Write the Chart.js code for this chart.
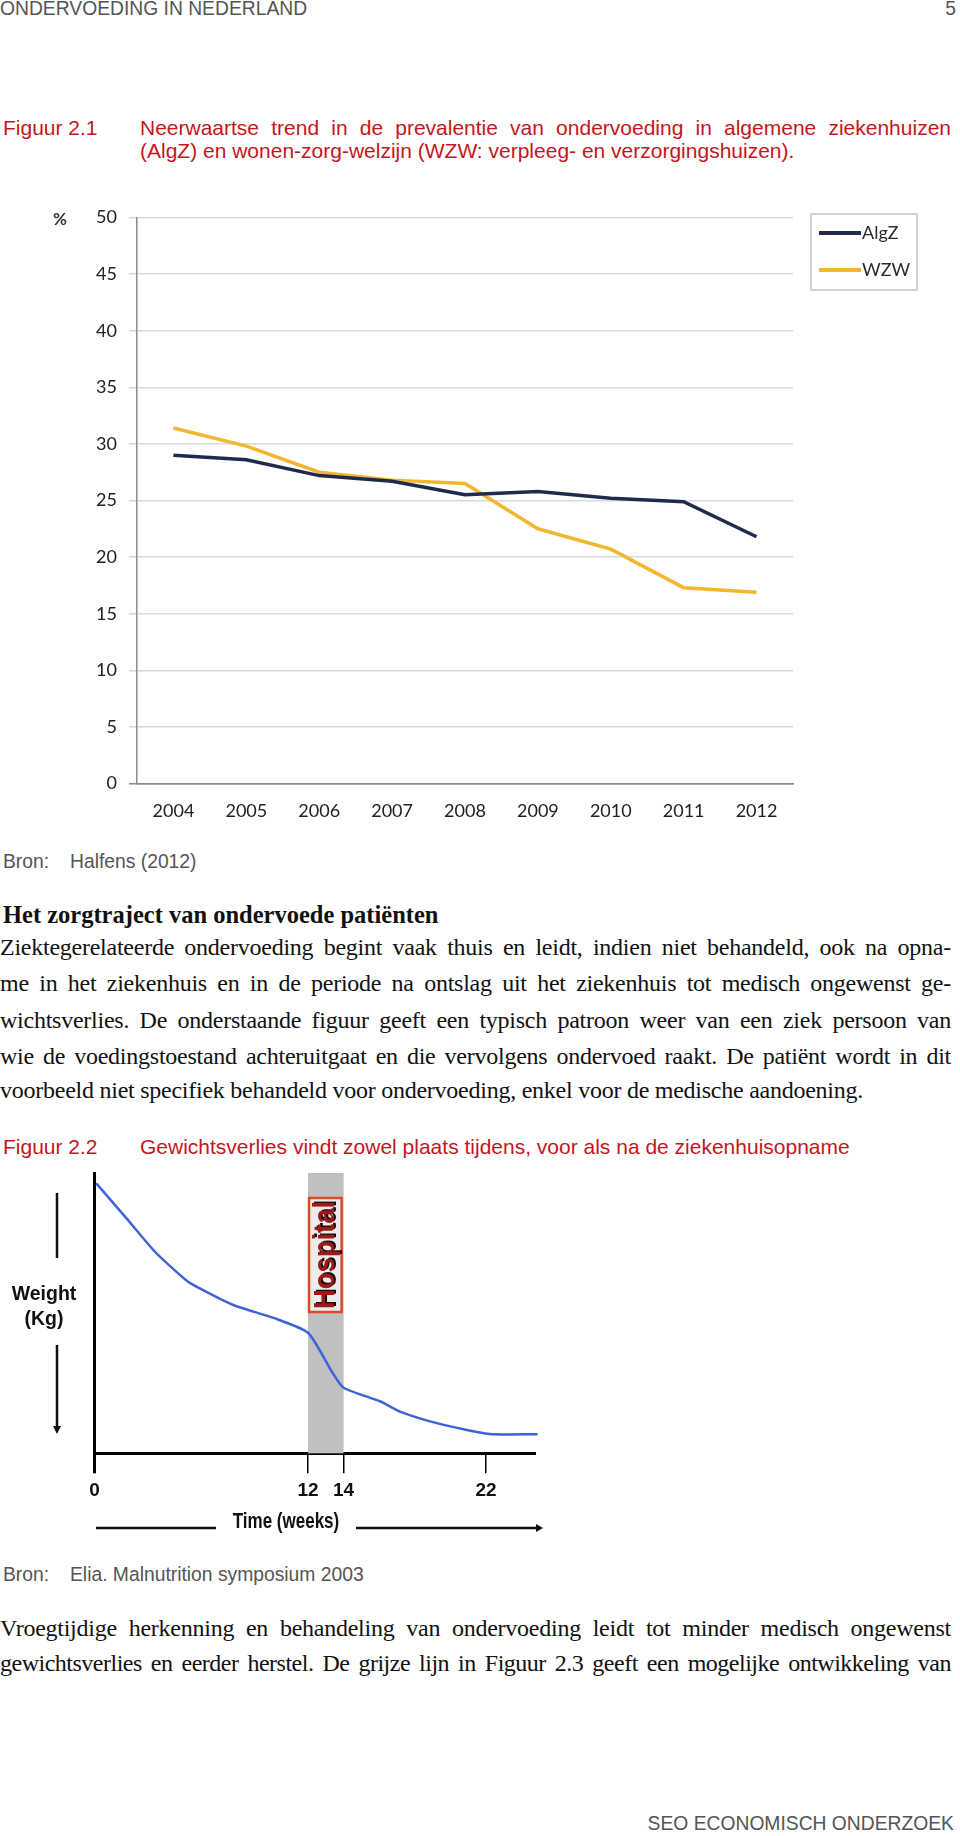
<!DOCTYPE html>
<html>
<head>
<meta charset="utf-8">
<script src="https://cdn.jsdelivr.net/npm/chart.js@4.4.1/dist/chart.umd.min.js"></script>
<style>
body{margin:0;background:#fff;}
#page{position:relative;width:960px;height:1836px;overflow:hidden;}
.t{position:absolute;white-space:nowrap;line-height:24px;height:24px;}
.sans{font-family:"Liberation Sans",Arial,sans-serif;}
.serif{font-family:"Liberation Serif","Times New Roman",serif;font-size:24px;color:#111;letter-spacing:-0.25px;}
.j{left:0;width:951px;text-align:justify;text-align-last:justify;white-space:normal;}
.gray{color:#555;}
.red{color:#c4161c;}
.cap{font-size:21px;}
.src{font-size:19.3px;}
canvas{position:absolute;}
</style>
</head>
<body>
<div id="page">
  <div class="t sans gray" style="left:0;top:-3px;font-size:19.3px;">ONDERVOEDING IN NEDERLAND</div>
  <div class="t sans gray" style="right:4px;top:-3px;font-size:19.3px;">5</div>

  <div class="t sans red cap" style="left:3px;top:116px;">Figuur 2.1</div>
  <div class="t sans red cap j" style="left:140px;width:811px;top:116px;">Neerwaartse trend in de prevalentie van ondervoeding in algemene ziekenhuizen</div>
  <div class="t sans red cap" style="left:140px;top:139px;">(AlgZ) en wonen-zorg-welzijn (WZW: verpleeg- en verzorgingshuizen).</div>

  <canvas id="prevChart" width="900" height="640" style="left:40px;top:190px;"></canvas>

  <div class="t sans gray src" style="left:3px;top:850px;">Bron:</div>
  <div class="t sans gray src" style="left:70px;top:850px;">Halfens (2012)</div>

  <div class="t serif" style="left:3px;top:903px;font-weight:bold;font-size:24.5px;letter-spacing:0;">Het zorgtraject van ondervoede patiënten</div>
  <div class="t serif j" style="top:935px;">Ziektegerelateerde ondervoeding begint vaak thuis en leidt, indien niet behandeld, ook na opna-</div>
  <div class="t serif j" style="top:971px;">me in het ziekenhuis en in de periode na ontslag uit het ziekenhuis tot medisch ongewenst ge-</div>
  <div class="t serif j" style="top:1008px;">wichtsverlies. De onderstaande figuur geeft een typisch patroon weer van een ziek persoon van</div>
  <div class="t serif j" style="top:1044px;">wie de voedingstoestand achteruitgaat en die vervolgens ondervoed raakt. De patiënt wordt in dit</div>
  <div class="t serif" style="left:0;top:1078px;">voorbeeld niet specifiek behandeld voor ondervoeding, enkel voor de medische aandoening.</div>

  <div class="t sans red cap" style="left:3px;top:1135px;">Figuur 2.2</div>
  <div class="t sans red cap" style="left:140px;top:1135px;">Gewichtsverlies vindt zowel plaats tijdens, voor als na de ziekenhuisopname</div>

  <canvas id="weightChart" width="600" height="380" style="left:0;top:1160px;"></canvas>

  <div class="t sans gray src" style="left:3px;top:1563px;">Bron:</div>
  <div class="t sans gray src" style="left:70px;top:1563px;">Elia. Malnutrition symposium 2003</div>

  <div class="t serif j" style="top:1616px;">Vroegtijdige herkenning en behandeling van ondervoeding leidt tot minder medisch ongewenst</div>
  <div class="t serif j" style="top:1651px;letter-spacing:-0.5px;">gewichtsverlies en eerder herstel. De grijze lijn in Figuur 2.3 geeft een mogelijke ontwikkeling van</div>

  <div class="t sans gray" style="right:6px;top:1812px;font-size:19.3px;">SEO ECONOMISCH ONDERZOEK</div>
</div>

<script>
// Figuur 2.1 data
const years = ['2004', '2005', '2006', '2007', '2008', '2009', '2010', '2011', '2012'];
const algz = [29.0, 28.6, 27.2, 26.7, 25.5, 25.8, 25.2, 24.9, 21.8];
const wzw = [31.4, 29.8, 27.5, 26.8, 26.5, 22.5, 20.7, 17.3, 16.9];

// Figuur 2.2 data
const weeks = [0.1, 1.8, 3.4, 4.7, 5.4, 7.8, 10.1, 12, 13.4, 14, 16.1, 17.2, 19.4, 22.2, 24.9];
const weight = [96.3, 83.8, 71.9, 64.2, 60.6, 52.9, 48.2, 43.0, 28.5, 23.4, 18.4, 14.8, 10.5, 6.9, 6.8];
const weekTicks = [0, 12, 14, 22];
const hospitalWeeks = [12, 14];

Chart.defaults.animation = false;
Chart.defaults.font.family = 'Lato, "Open Sans", sans-serif';

const legendBox = {
    id: 'legendBox',
    afterDraw: function(chart) {
        var ctx = chart.ctx;
        ctx.save();
        ctx.strokeStyle = '#c4c4c4';
        ctx.lineWidth = 1.5;
        ctx.strokeRect(771, 24, 106, 76);
        chart.data.datasets.forEach(function(ds, i) {
            var y = 43 + i * 37;
            ctx.strokeStyle = ds.borderColor;
            ctx.lineWidth = 4;
            ctx.beginPath();
            ctx.moveTo(779, y);
            ctx.lineTo(821, y);
            ctx.stroke();
            ctx.fillStyle = '#2b2b2b';
            ctx.font = '18px Lato, sans-serif';
            ctx.textBaseline = 'middle';
            ctx.fillText(ds.label, 822, y);
        });
        ctx.font = 'bold 17px Lato, sans-serif';
        ctx.fillStyle = '#333';
        ctx.fillText('%', 13, 30);
        ctx.restore();
    }
};

new Chart(document.getElementById('prevChart'), {
    type: 'line',
    data: {
        labels: years,
        datasets: [{
            label: 'AlgZ',
            data: algz,
            borderColor: '#1f2a4d',
            borderWidth: 3.5,
            pointRadius: 0,
            tension: 0
        }, {
            label: 'WZW',
            data: wzw,
            borderColor: '#f2b630',
            borderWidth: 3.5,
            pointRadius: 0,
            tension: 0
        }]
    },
    options: {
        responsive: false,
        layout: { padding: { top: 27.5, right: 147, left: 0, bottom: 0 } },
        plugins: { legend: { display: false }, tooltip: { enabled: false } },
        scales: {
            x: {
                offset: true,
                grid: { display: false },
                border: { display: true, color: '#8c8c8c', width: 1.5 },
                ticks: { color: '#222', font: { size: 18 }, padding: 9 },
                afterFit: function(scale) { scale.height = 46.5; }
            },
            y: {
                min: 0,
                max: 50,
                ticks: { stepSize: 5, color: '#222', font: { size: 18 }, padding: 12 },
                grid: {
                    color: function(c) { return c.tick && c.tick.value === 0 ? '#8c8c8c' : '#d9d9d9'; },
                    lineWidth: 1.5,
                    tickLength: 8
                },
                border: { display: true, color: '#8c8c8c', width: 1.5 },
                afterFit: function(scale) { scale.width = 97; }
            }
        }
    },
    plugins: [legendBox]
});

const hospitalBand = {
    id: 'hospitalBand',
    beforeDatasetsDraw: function(chart) {
        var ctx = chart.ctx;
        var xs = chart.scales.x;
        var area = chart.chartArea;
        var x0 = xs.getPixelForValue(hospitalWeeks[0]);
        var x1 = xs.getPixelForValue(hospitalWeeks[1]);
        ctx.save();
        ctx.fillStyle = '#c0c0c0';
        ctx.fillRect(x0, area.top, x1 - x0, area.bottom - area.top);
        // Hospital sign
        var bx = x0 + 1, bw = x1 - x0 - 3, by = 38, bh = 114;
        ctx.fillStyle = '#ececec';
        ctx.fillRect(bx, by, bw, bh);
        ctx.strokeStyle = '#dc4a26';
        ctx.lineWidth = 2.5;
        ctx.strokeRect(bx, by, bw, bh);
        ctx.translate(bx + bw / 2, by + bh / 2);
        ctx.rotate(-Math.PI / 2);
        ctx.font = 'bold 30px "Liberation Sans Narrow", "Liberation Sans", sans-serif';
        var w = ctx.measureText('Hospital').width;
        ctx.scale((bh - 6) / w, 1);
        ctx.textAlign = 'center';
        ctx.textBaseline = 'middle';
        ctx.fillStyle = '#111';
        ctx.fillText('Hospital', 1.5, 2);
        ctx.fillStyle = '#a01818';
        ctx.fillText('Hospital', 0, 0);
        ctx.restore();
    },
    afterDraw: function(chart) {
        var ctx = chart.ctx;
        ctx.save();
        ctx.fillStyle = '#111';
        ctx.strokeStyle = '#111';
        ctx.font = 'bold 19.5px "Liberation Sans", Arial, sans-serif';
        ctx.textAlign = 'center';
        ctx.textBaseline = 'middle';
        ctx.fillText('Weight', 44, 135);
        ctx.fillText('(Kg)', 44, 160);
        ctx.save();
        ctx.translate(286, 362);
        ctx.scale(1, 1.25);
        ctx.font = 'bold 17px "Liberation Sans Narrow", "Liberation Sans", sans-serif';
        ctx.fillText('Time (weeks)', 0, 0);
        ctx.restore();
        ctx.lineWidth = 2.5;
        ctx.beginPath();
        ctx.moveTo(57, 33); ctx.lineTo(57, 98);
        ctx.moveTo(57, 185); ctx.lineTo(57, 268);
        ctx.moveTo(96, 368); ctx.lineTo(216, 368);
        ctx.moveTo(356, 368); ctx.lineTo(538, 368);
        ctx.stroke();
        ctx.beginPath();
        ctx.moveTo(53, 266); ctx.lineTo(61, 266); ctx.lineTo(57, 274); ctx.closePath();
        ctx.moveTo(536, 364); ctx.lineTo(536, 372); ctx.lineTo(543, 368); ctx.closePath();
        ctx.fill();
        ctx.restore();
    }
};

new Chart(document.getElementById('weightChart'), {
    type: 'line',
    data: {
        datasets: [{
            data: weeks.map(function(w, i) { return { x: w, y: weight[i] }; }),
            borderColor: '#3f63d6',
            borderWidth: 2.5,
            pointRadius: 0,
            tension: 0.2,
            clip: false
        }]
    },
    options: {
        responsive: false,
        layout: { padding: { top: 13, right: 66, left: 0, bottom: 0 } },
        plugins: { legend: { display: false }, tooltip: { enabled: false } },
        scales: {
            x: {
                type: 'linear',
                min: 0,
                max: 24.7,
                afterBuildTicks: function(scale) {
                    scale.ticks = weekTicks.map(function(v) { return { value: v }; });
                },
                grid: {
                    drawOnChartArea: false,
                    drawTicks: true,
                    tickLength: 20,
                    color: '#000',
                    lineWidth: function(c) { return c.tick && c.tick.value === 0 ? 3 : 1.5; }
                },
                border: { display: true, color: '#000', width: 3 },
                ticks: {
                    color: '#111',
                    padding: 6,
                    autoSkip: false,
                    maxRotation: 0,
                    font: { family: '"Liberation Sans", Arial, sans-serif', size: 19, weight: 'bold' }
                },
                afterFit: function(scale) { scale.height = 86.7; }
            },
            y: {
                min: 0,
                max: 100,
                ticks: { display: false },
                grid: { drawOnChartArea: false, drawTicks: false },
                border: { display: true, color: '#000', width: 3 },
                afterFit: function(scale) { scale.width = 94.5; }
            }
        }
    },
    plugins: [hospitalBand]
});
</script>
</body>
</html>
